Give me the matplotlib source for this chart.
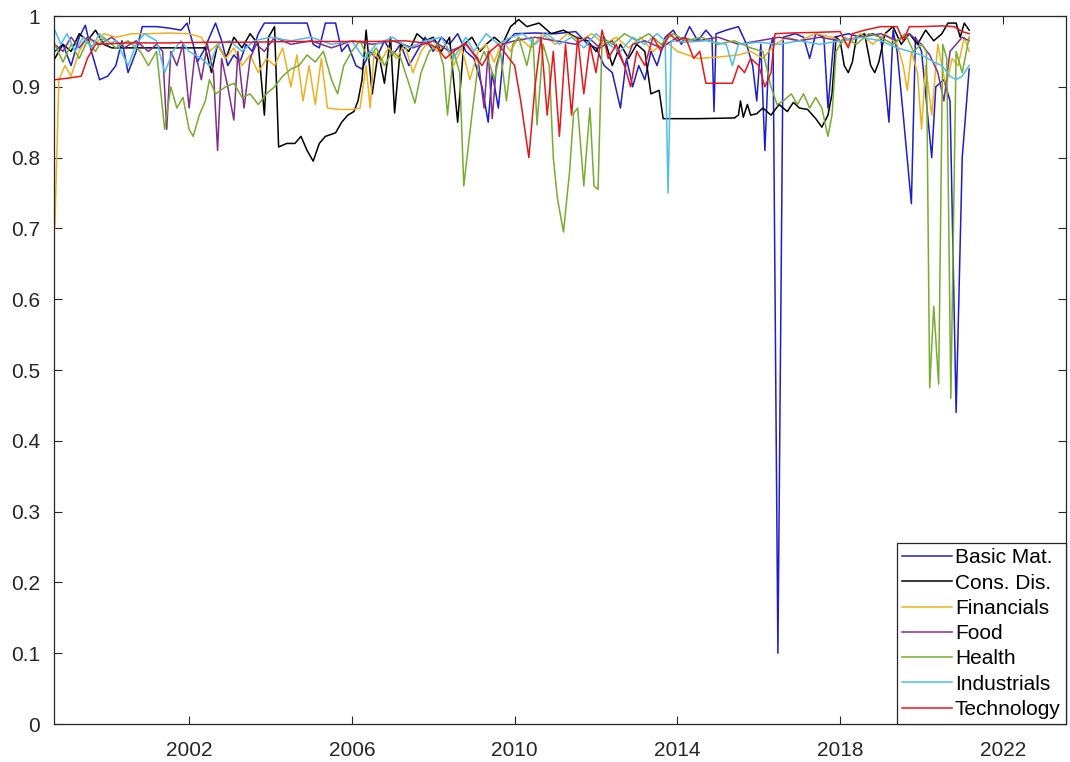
import matplotlib
matplotlib.use("Agg")
import matplotlib.pyplot as plt

plt.rcParams['font.family'] = ['Liberation Sans', 'DejaVu Sans']

labels = ["Basic Mat.", "Cons. Dis.", "Financials", "Food", "Health", "Industrials", "Technology"]
colors = ["#1E1ECC", "#000000", "#EDB120", "#7E2F8E", "#77AC30", "#4DBEEE", "#E8161B"]

basic_mat = [(1998.7,0.95),(1998.9,0.96),(1999.1,0.93),(1999.3,0.97),(1999.45,0.987),(1999.6,0.95),(1999.8,0.91),(2000.0,0.915),(2000.2,0.93),(2000.35,0.965),(2000.5,0.92),(2000.7,0.95),(2000.85,0.985),(2001.2,0.985),(2001.5,0.983),(2001.8,0.98),(2001.95,0.99),(2002.1,0.96),(2002.2,0.935),(2002.35,0.95),(2002.5,0.97),(2002.65,0.99),(2002.8,0.965),(2002.95,0.93),(2003.1,0.945),(2003.25,0.935),(2003.4,0.96),(2003.55,0.95),(2003.7,0.975),(2003.85,0.99),(2004.4,0.99),(2004.9,0.99),(2005.05,0.96),(2005.2,0.955),(2005.35,0.99),(2005.6,0.99),(2005.75,0.95),(2005.9,0.96),(2006.1,0.93),(2006.25,0.925),(2006.45,0.95),(2006.6,0.94),(2006.8,0.965),(2007.0,0.945),(2007.2,0.96),(2007.4,0.93),(2007.6,0.95),(2007.8,0.97),(2008.0,0.95),(2008.2,0.97),(2008.4,0.96),(2008.6,0.975),(2008.8,0.95),(2009.0,0.94),(2009.2,0.90),(2009.35,0.85),(2009.45,0.92),(2009.6,0.87),(2009.75,0.96),(2010.0,0.975),(2010.5,0.976),(2011.0,0.975),(2011.5,0.978),(2011.8,0.96),(2012.0,0.955),(2012.2,0.93),(2012.4,0.92),(2012.6,0.87),(2012.75,0.94),(2012.9,0.90),(2013.05,0.93),(2013.2,0.91),(2013.35,0.95),(2013.5,0.93),(2013.7,0.97),(2013.9,0.98),(2014.1,0.96),(2014.3,0.985),(2014.5,0.965),(2014.7,0.98),(2014.85,0.97),(2014.9,0.865),(2014.95,0.975),(2015.2,0.98),(2015.5,0.985),(2015.7,0.96),(2015.85,0.93),(2015.95,0.88),(2016.05,0.96),(2016.15,0.81),(2016.25,0.95),(2016.35,0.97),(2016.47,0.10),(2016.6,0.97),(2016.9,0.975),(2017.1,0.97),(2017.25,0.94),(2017.4,0.975),(2017.6,0.97),(2017.7,0.87),(2017.85,0.97),(2018.2,0.975),(2018.5,0.97),(2018.8,0.975),(2019.0,0.97),(2019.2,0.85),(2019.3,0.98),(2019.4,0.95),(2019.55,0.86),(2019.75,0.735),(2019.85,0.97),(2020.0,0.95),(2020.25,0.80),(2020.35,0.90),(2020.55,0.91),(2020.7,0.88),(2020.85,0.44),(2021.0,0.80),(2021.17,0.925)]

cons_dis = [(1998.7,0.94),(1998.9,0.96),(1999.1,0.95),(1999.3,0.975),(1999.5,0.965),(1999.7,0.98),(1999.9,0.96),(2000.1,0.955),(2001.0,0.955),(2002.0,0.955),(2002.4,0.955),(2002.55,0.92),(2002.7,0.96),(2002.9,0.94),(2003.1,0.97),(2003.3,0.955),(2003.5,0.975),(2003.7,0.96),(2003.85,0.86),(2003.95,0.97),(2004.1,0.985),(2004.2,0.815),(2004.4,0.82),(2004.6,0.82),(2004.75,0.83),(2004.9,0.81),(2005.05,0.795),(2005.2,0.82),(2005.35,0.83),(2005.6,0.835),(2005.75,0.85),(2005.9,0.86),(2006.05,0.865),(2006.15,0.88),(2006.25,0.91),(2006.35,0.98),(2006.5,0.89),(2006.65,0.95),(2006.8,0.905),(2006.95,0.97),(2007.05,0.863),(2007.2,0.96),(2007.4,0.95),(2007.6,0.975),(2007.8,0.965),(2008.0,0.97),(2008.2,0.95),(2008.4,0.97),(2008.6,0.85),(2008.75,0.96),(2008.95,0.97),(2009.15,0.95),(2009.3,0.96),(2009.5,0.97),(2009.7,0.96),(2009.9,0.985),(2010.1,0.995),(2010.3,0.985),(2010.6,0.99),(2010.9,0.975),(2011.2,0.98),(2011.5,0.97),(2011.8,0.965),(2012.0,0.95),(2012.2,0.97),(2012.4,0.93),(2012.6,0.96),(2012.8,0.94),(2013.0,0.96),(2013.2,0.95),(2013.35,0.89),(2013.55,0.895),(2013.65,0.855),(2014.5,0.855),(2015.4,0.856),(2015.5,0.86),(2015.55,0.88),(2015.62,0.857),(2015.72,0.875),(2015.8,0.86),(2015.95,0.862),(2016.1,0.87),(2016.3,0.86),(2016.5,0.875),(2016.7,0.865),(2016.85,0.878),(2017.0,0.87),(2017.2,0.868),(2017.4,0.855),(2017.55,0.843),(2017.7,0.86),(2017.8,0.89),(2017.9,0.97),(2018.0,0.965),(2018.1,0.93),(2018.2,0.92),(2018.3,0.935),(2018.4,0.97),(2018.6,0.975),(2018.75,0.93),(2018.85,0.92),(2018.95,0.935),(2019.1,0.975),(2019.3,0.985),(2019.5,0.96),(2019.7,0.975),(2019.9,0.96),(2020.1,0.98),(2020.3,0.965),(2020.5,0.975),(2020.65,0.99),(2020.85,0.99),(2020.95,0.97),(2021.05,0.99),(2021.17,0.98)]

financials = [(1998.7,0.70),(1998.8,0.91),(1998.95,0.93),(1999.1,0.915),(1999.3,0.95),(1999.5,0.97),(1999.7,0.96),(1999.9,0.975),(2000.2,0.97),(2000.6,0.975),(2001.0,0.975),(2001.5,0.976),(2002.0,0.975),(2002.3,0.97),(2002.5,0.95),(2002.7,0.96),(2002.9,0.94),(2003.1,0.955),(2003.3,0.93),(2003.5,0.945),(2003.7,0.92),(2003.9,0.94),(2004.1,0.93),(2004.3,0.955),(2004.5,0.90),(2004.65,0.945),(2004.8,0.88),(2004.95,0.93),(2005.1,0.875),(2005.25,0.94),(2005.4,0.87),(2005.7,0.868),(2006.0,0.868),(2006.2,0.87),(2006.35,0.93),(2006.45,0.87),(2006.55,0.95),(2006.7,0.935),(2006.9,0.955),(2007.1,0.94),(2007.3,0.96),(2007.5,0.92),(2007.7,0.95),(2007.9,0.965),(2008.1,0.95),(2008.3,0.96),(2008.5,0.93),(2008.7,0.955),(2008.9,0.91),(2009.1,0.95),(2009.3,0.96),(2009.5,0.935),(2009.7,0.965),(2009.9,0.95),(2010.1,0.97),(2010.4,0.955),(2010.7,0.975),(2011.0,0.96),(2011.3,0.975),(2011.6,0.965),(2011.9,0.975),(2012.2,0.96),(2012.5,0.97),(2012.8,0.955),(2013.1,0.97),(2013.4,0.95),(2013.7,0.965),(2014.0,0.95),(2014.5,0.94),(2015.0,0.942),(2015.5,0.945),(2015.8,0.95),(2016.1,0.94),(2016.4,0.96),(2016.7,0.97),(2017.0,0.965),(2017.4,0.975),(2017.8,0.97),(2018.2,0.96),(2018.5,0.975),(2018.8,0.96),(2019.1,0.975),(2019.4,0.96),(2019.55,0.93),(2019.65,0.895),(2019.75,0.95),(2019.9,0.92),(2020.0,0.84),(2020.1,0.93),(2020.25,0.86),(2020.4,0.96),(2020.6,0.90),(2020.75,0.94),(2020.9,0.93),(2021.05,0.97),(2021.17,0.95)]

food = [(1998.7,0.96),(1998.9,0.95),(1999.1,0.97),(1999.3,0.955),(1999.5,0.97),(1999.8,0.96),(2000.1,0.97),(2000.4,0.955),(2000.7,0.965),(2001.0,0.95),(2001.2,0.96),(2001.35,0.95),(2001.45,0.84),(2001.55,0.95),(2001.7,0.93),(2001.85,0.96),(2002.0,0.87),(2002.15,0.95),(2002.3,0.91),(2002.45,0.96),(2002.6,0.92),(2002.7,0.81),(2002.8,0.94),(2002.95,0.90),(2003.1,0.853),(2003.2,0.95),(2003.35,0.87),(2003.5,0.94),(2003.65,0.96),(2003.85,0.95),(2004.1,0.97),(2004.5,0.96),(2005.0,0.965),(2005.5,0.955),(2006.0,0.965),(2006.5,0.96),(2007.0,0.965),(2007.5,0.955),(2008.0,0.965),(2008.4,0.95),(2008.8,0.96),(2009.1,0.94),(2009.25,0.87),(2009.35,0.95),(2009.45,0.855),(2009.55,0.93),(2009.7,0.96),(2010.0,0.965),(2010.5,0.97),(2011.0,0.965),(2011.5,0.96),(2011.8,0.97),(2012.1,0.955),(2012.4,0.965),(2012.7,0.93),(2012.9,0.96),(2013.2,0.965),(2013.6,0.955),(2014.0,0.97),(2014.5,0.965),(2015.0,0.97),(2015.5,0.96),(2016.0,0.965),(2016.5,0.97),(2017.0,0.965),(2017.5,0.97),(2018.0,0.965),(2018.5,0.97),(2019.0,0.975),(2019.4,0.965),(2019.7,0.975),(2020.0,0.96),(2020.2,0.945),(2020.4,0.92),(2020.55,0.88),(2020.7,0.95),(2020.85,0.96),(2021.0,0.97),(2021.17,0.965)]

health = [(1998.7,0.96),(1998.9,0.935),(1999.1,0.96),(1999.3,0.94),(1999.5,0.965),(1999.7,0.95),(1999.9,0.97),(2000.2,0.955),(2000.5,0.965),(2000.8,0.95),(2001.0,0.93),(2001.2,0.95),(2001.4,0.84),(2001.55,0.90),(2001.7,0.87),(2001.85,0.885),(2002.0,0.84),(2002.1,0.83),(2002.25,0.86),(2002.4,0.88),(2002.5,0.91),(2002.65,0.89),(2002.9,0.90),(2003.1,0.905),(2003.3,0.885),(2003.5,0.89),(2003.7,0.875),(2003.9,0.89),(2004.1,0.90),(2004.3,0.915),(2004.5,0.925),(2004.7,0.93),(2004.9,0.945),(2005.1,0.935),(2005.3,0.95),(2005.5,0.91),(2005.65,0.89),(2005.8,0.93),(2006.0,0.95),(2006.2,0.965),(2006.4,0.94),(2006.6,0.955),(2006.8,0.93),(2007.0,0.95),(2007.2,0.94),(2007.4,0.905),(2007.55,0.877),(2007.7,0.92),(2007.9,0.95),(2008.1,0.96),(2008.25,0.93),(2008.35,0.86),(2008.5,0.95),(2008.65,0.92),(2008.75,0.76),(2008.95,0.86),(2009.1,0.93),(2009.25,0.95),(2009.4,0.93),(2009.5,0.91),(2009.65,0.95),(2009.8,0.88),(2009.95,0.96),(2010.1,0.97),(2010.3,0.93),(2010.45,0.97),(2010.55,0.846),(2010.7,0.96),(2010.85,0.93),(2010.95,0.80),(2011.05,0.743),(2011.2,0.695),(2011.35,0.78),(2011.45,0.863),(2011.55,0.87),(2011.7,0.76),(2011.85,0.87),(2011.95,0.76),(2012.05,0.755),(2012.15,0.97),(2012.4,0.96),(2012.7,0.975),(2013.0,0.965),(2013.3,0.975),(2013.6,0.96),(2013.9,0.975),(2014.2,0.965),(2014.6,0.97),(2015.0,0.96),(2015.4,0.965),(2015.8,0.955),(2016.1,0.95),(2016.3,0.90),(2016.45,0.875),(2016.6,0.88),(2016.8,0.89),(2016.95,0.875),(2017.1,0.89),(2017.25,0.87),(2017.4,0.885),(2017.55,0.87),(2017.7,0.83),(2017.8,0.86),(2017.9,0.95),(2018.1,0.97),(2018.4,0.96),(2018.7,0.975),(2019.0,0.97),(2019.3,0.96),(2019.6,0.975),(2019.8,0.95),(2020.0,0.96),(2020.12,0.95),(2020.2,0.475),(2020.3,0.59),(2020.42,0.48),(2020.52,0.96),(2020.62,0.94),(2020.72,0.46),(2020.85,0.95),(2021.0,0.92),(2021.17,0.97)]

industrials = [(1998.7,0.98),(1998.85,0.96),(1999.0,0.975),(1999.2,0.95),(1999.4,0.97),(1999.6,0.955),(1999.8,0.975),(2000.0,0.96),(2000.2,0.965),(2000.5,0.93),(2000.7,0.96),(2000.9,0.975),(2001.2,0.965),(2001.4,0.92),(2001.6,0.95),(2001.8,0.965),(2002.0,0.95),(2002.3,0.94),(2002.5,0.93),(2002.7,0.96),(2003.0,0.965),(2003.3,0.95),(2003.6,0.965),(2004.0,0.97),(2004.5,0.965),(2005.0,0.97),(2005.5,0.96),(2006.0,0.965),(2006.3,0.94),(2006.6,0.96),(2007.0,0.97),(2007.4,0.955),(2007.8,0.965),(2008.2,0.97),(2008.5,0.94),(2008.8,0.97),(2009.0,0.95),(2009.3,0.975),(2009.6,0.96),(2009.9,0.97),(2010.2,0.975),(2010.5,0.96),(2010.8,0.975),(2011.1,0.96),(2011.4,0.97),(2011.7,0.955),(2012.0,0.975),(2012.3,0.96),(2012.6,0.95),(2012.9,0.97),(2013.2,0.96),(2013.5,0.975),(2013.7,0.965),(2013.77,0.75),(2013.85,0.965),(2014.2,0.963),(2014.7,0.965),(2015.2,0.96),(2015.35,0.93),(2015.5,0.96),(2016.0,0.963),(2016.5,0.96),(2017.0,0.965),(2017.5,0.96),(2018.0,0.965),(2018.5,0.97),(2019.0,0.965),(2019.4,0.955),(2019.7,0.95),(2020.0,0.945),(2020.3,0.935),(2020.5,0.93),(2020.7,0.915),(2020.85,0.91),(2021.0,0.915),(2021.17,0.93)]

technology = [(1998.7,0.91),(1999.0,0.912),(1999.35,0.915),(1999.5,0.94),(1999.7,0.96),(2000.5,0.962),(2001.5,0.962),(2002.5,0.963),(2003.5,0.963),(2004.5,0.964),(2005.5,0.964),(2006.5,0.964),(2007.3,0.965),(2007.8,0.962),(2008.1,0.955),(2008.3,0.94),(2008.5,0.95),(2008.8,0.962),(2009.0,0.945),(2009.2,0.93),(2009.4,0.95),(2009.6,0.96),(2009.8,0.945),(2010.0,0.93),(2010.15,0.88),(2010.35,0.80),(2010.5,0.90),(2010.65,0.97),(2010.8,0.86),(2010.95,0.95),(2011.1,0.83),(2011.25,0.96),(2011.4,0.86),(2011.55,0.97),(2011.7,0.89),(2011.85,0.96),(2012.0,0.92),(2012.15,0.98),(2012.3,0.94),(2012.5,0.96),(2012.7,0.93),(2012.85,0.90),(2013.0,0.95),(2013.2,0.93),(2013.4,0.97),(2013.6,0.95),(2013.8,0.975),(2014.0,0.965),(2014.2,0.97),(2014.4,0.94),(2014.55,0.95),(2014.7,0.905),(2015.0,0.905),(2015.35,0.905),(2015.5,0.93),(2015.65,0.92),(2015.8,0.94),(2016.0,0.93),(2016.15,0.90),(2016.3,0.92),(2016.4,0.975),(2016.8,0.976),(2017.5,0.977),(2018.0,0.978),(2018.2,0.955),(2018.3,0.975),(2018.6,0.98),(2019.0,0.985),(2019.4,0.985),(2019.55,0.965),(2019.7,0.985),(2020.0,0.985),(2020.5,0.986),(2020.8,0.985),(2021.0,0.978),(2021.17,0.975)]

series = [basic_mat, cons_dis, financials, food, health, industrials, technology]

year_ticks = [2002, 2006, 2010, 2014, 2018, 2022]
y_ticks = [0, 0.1, 0.2, 0.3, 0.4, 0.5, 0.6, 0.7, 0.8, 0.9, 1]
y_tick_labels = ["0", "0.1", "0.2", "0.3", "0.4", "0.5", "0.6", "0.7", "0.8", "0.9", "1"]

fig = plt.figure(figsize=(10.70, 7.62), dpi=100)
ax = fig.add_axes([54/1070, 1 - 724/762, (1066 - 54)/1070, (724 - 16)/762])

for data, lab, col in zip(series, labels, colors):
    xs = [p[0] for p in data]
    ys = [p[1] for p in data]
    ax.plot(xs, ys, color=col, lw=1.1, label=lab)

ax.set_xlim(1998.68, 2023.55)
ax.set_ylim(0, 1)
ax.set_xticks(year_ticks)
ax.set_xticklabels([str(y) for y in year_ticks])
ax.set_yticks(y_ticks)
ax.set_yticklabels(y_tick_labels)
ax.tick_params(direction='in', length=6, width=0.8, top=True, right=True,
               labelsize=15, colors='#262626')
ax.tick_params(axis='x', pad=12)
ax.tick_params(axis='y', pad=10)
for s in ax.spines.values():
    s.set_color('#262626')
    s.set_linewidth(0.9)

leg = ax.legend(loc='lower right', borderaxespad=0, fontsize=15, fancybox=False,
                edgecolor='#262626', framealpha=1, handlelength=2.4,
                handletextpad=0.15, labelspacing=0.3, borderpad=0.25)
leg.get_frame().set_linewidth(0.9)

fig.savefig("out.png", dpi=100)
